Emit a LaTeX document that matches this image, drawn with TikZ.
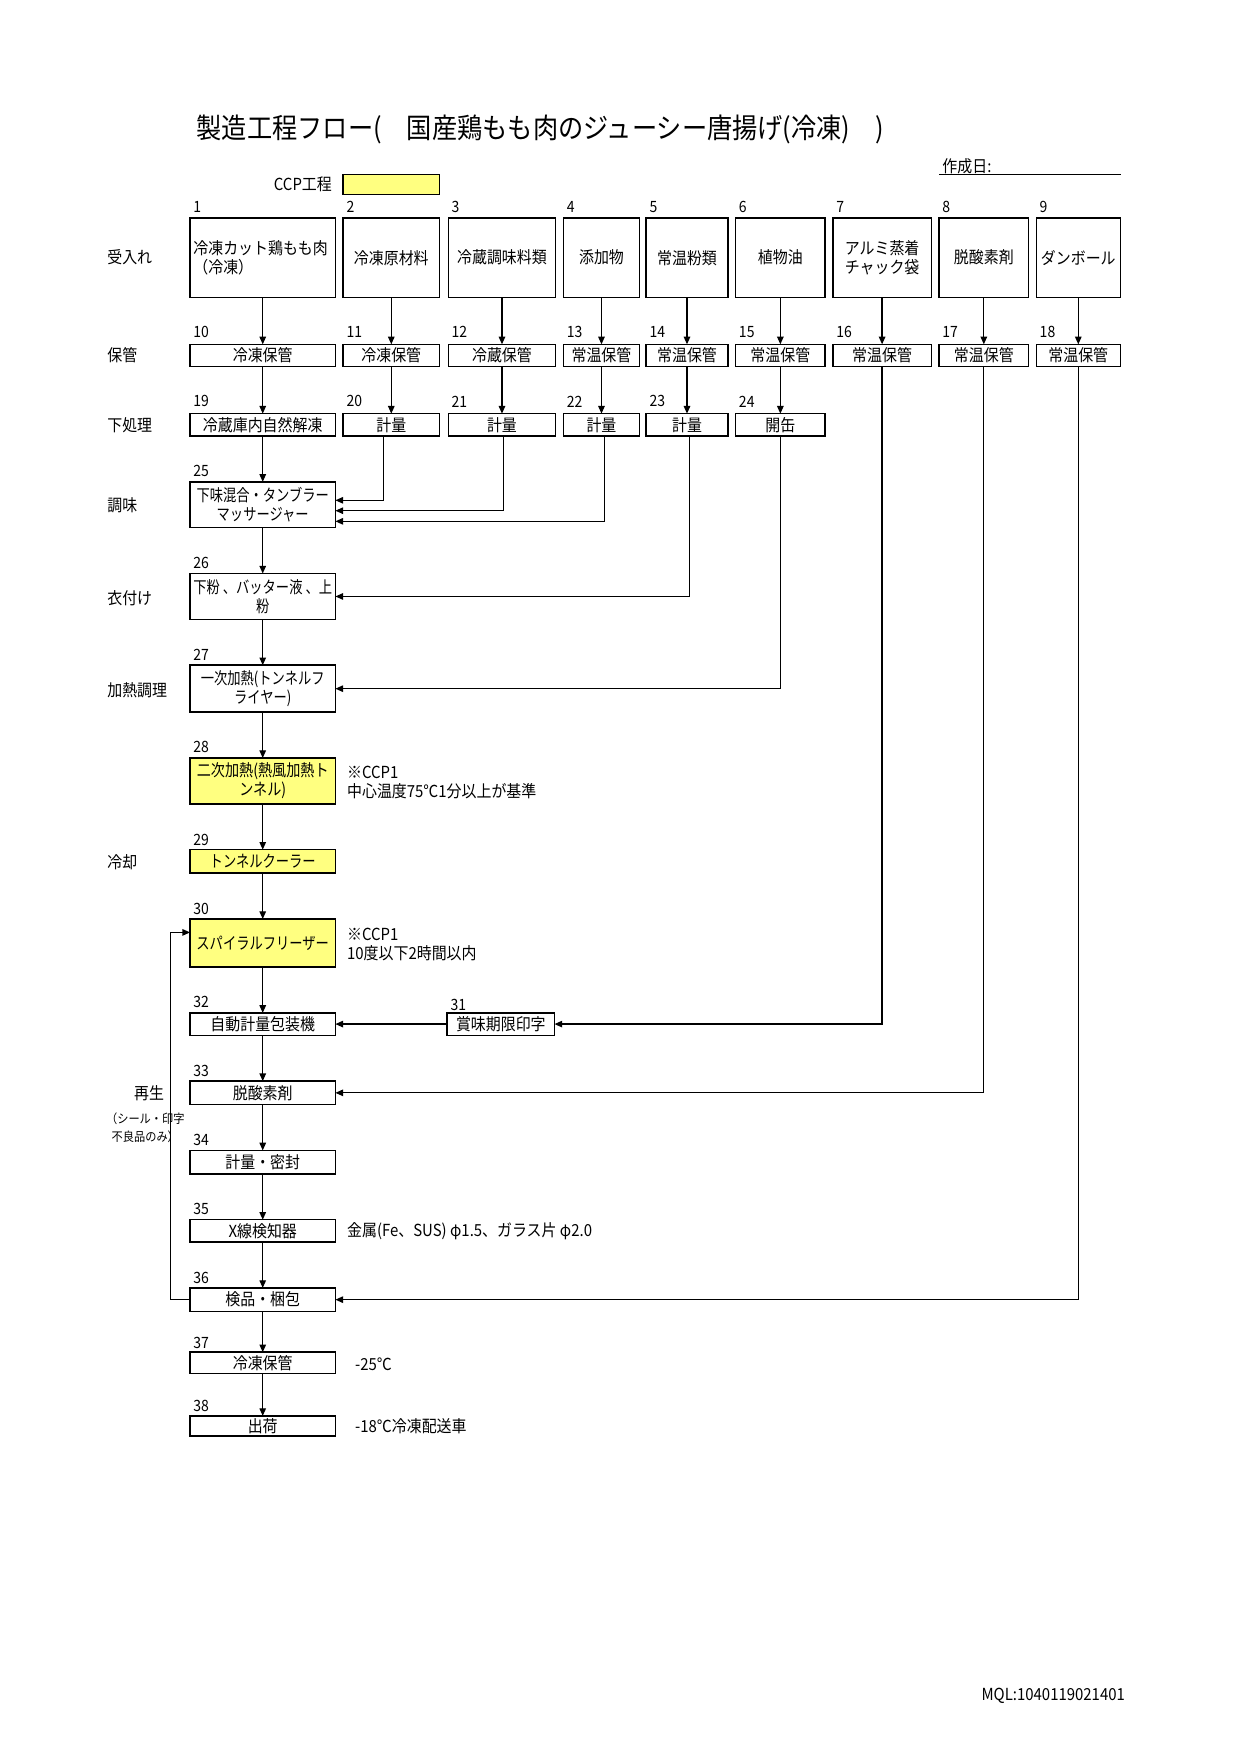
\documentclass[tikz,border=0pt]{standalone}
\usepackage{fontspec}
\newfontfamily\jp[FakeStretch=0.9]{Noto Sans CJK JP}
\newfontfamily\jpn[FakeStretch=0.8]{Noto Sans CJK JP}
\newfontfamily\jpm[FakeStretch=0.85]{Noto Sans CJK JP}
\usetikzlibrary{arrows.meta}
\newdimen\pxu \pxu=0.18936mm
\definecolor{ccp}{RGB}{255,255,128}
\begin{document}
\begin{tikzpicture}[x=0.18936mm, y=-0.18936mm,
  every node/.style={inner sep=0pt, outer sep=0pt},
  t/.style={font=\jp\fontsize{8}{9.1}\selectfont},
  tn/.style={font=\jp\fontsize{7.5}{9}\selectfont, anchor=west},
  ts/.style={font=\jp\fontsize{6}{8.6}\selectfont},
  tt/.style={font=\jp\fontsize{13.5}{16}\selectfont},
  box/.style={draw, line width=0.7pt, align=center, font=\jp\fontsize{8}{9.1}\selectfont},
  narrow/.style={font=\jpn\fontsize{8}{9.1}\selectfont},
  semi/.style={font=\jpm\fontsize{8}{9.1}\selectfont},
  wh/.style 2 args={minimum width=#1*\pxu, minimum height=#2*\pxu},
  yel/.style={fill=ccp},
  arr/.style={line width=0.6pt, -{Triangle[length=1.3mm,width=1.1mm]}},
  ln/.style={line width=0.6pt}]
\fill[white] (0,0) rectangle (1109,1568);
\useasboundingbox (0,0) rectangle (1109,1568);

% title and header
\node[tt, anchor=west] (title) at (176,116) {製造工程フロー(　国産鶏もも肉のジューシー唐揚げ(冷凍)　)};
\node[t, anchor=west] (made) at (843,149) {作成日:};
\coordinate (ul1) at (840,156);
\coordinate (ul2) at (1003,156);
\draw[ln] (ul1) -- (ul2);
\node[t, anchor=west] (ccplab) at (245,165) {CCP工程};
\node[box, yel, wh={86}{18}] (legend) at (350,165) {};
\node[t, anchor=west] (mql) at (878,1517) {MQL:1040119021401};

% row labels
\node[t, anchor=west] (l1) at (96,230) {受入れ};
\node[t, anchor=west] (l2) at (96,318) {保管};
\node[t, anchor=west] (l3) at (96,380) {下処理};
\node[t, anchor=west] (l4) at (96,452) {調味};
\node[t, anchor=west] (l5) at (96,535) {衣付け};
\node[t, anchor=west] (l6) at (96,617) {加熱調理};
\node[t, anchor=west] (l7) at (96,771) {冷却};
\node[t, anchor=west] (l8) at (120,978) {再生};
\node[ts, align=center] (l9) at (130,1009) {（シール・印字\\不良品のみ）};

% row 1
\node[box, wh={130}{71}, align=left, text width=23.48mm] (b1) at (235,230.5) {冷凍カット鶏もも肉\\（冷凍）};
\node[box, wh={86}{71}] (b2) at (350,230.5) {冷凍原材料};
\node[box, wh={96}{71}] (b3) at (449,230.5) {冷蔵調味料類};
\node[box, wh={68}{71}] (b4) at (538,230.5) {添加物};
\node[box, wh={73}{71}] (b5) at (614.5,230.5) {常温粉類};
\node[box, wh={80}{71}] (b6) at (698,230.5) {植物油};
\node[box, wh={88}{71}] (b7) at (789,230.5) {アルミ蒸着\\チャック袋};
\node[box, wh={80}{71}] (b8) at (880,230.5) {脱酸素剤};
\node[box, wh={75}{71}] (b9) at (964.5,230.5) {ダンボール};

% row 2
\node[box, wh={130}{20}] (b10) at (235,318) {冷凍保管};
\node[box, wh={86}{20}] (b11) at (350,318) {冷凍保管};
\node[box, wh={96}{20}] (b12) at (449,318) {冷蔵保管};
\node[box, wh={68}{20}] (b13) at (538,318) {常温保管};
\node[box, wh={73}{20}] (b14) at (614.5,318) {常温保管};
\node[box, wh={80}{20}] (b15) at (698,318) {常温保管};
\node[box, wh={88}{20}] (b16) at (789,318) {常温保管};
\node[box, wh={80}{20}] (b17) at (880,318) {常温保管};
\node[box, wh={75}{20}] (b18) at (964.5,318) {常温保管};

% row 3
\node[box, wh={130}{20}] (b19) at (235,380) {冷蔵庫内自然解凍};
\node[box, wh={86}{20}] (b20) at (350,380) {計量};
\node[box, wh={96}{20}] (b21) at (449,380) {計量};
\node[box, wh={68}{20}] (b22) at (538,380) {計量};
\node[box, wh={73}{20}] (b23) at (614.5,380) {計量};
\node[box, wh={80}{20}] (b24) at (698,380) {開缶};

% main column
\node[box, narrow, wh={130}{41}] (b25) at (235,451.5) {下味混合・タンブラー\\マッサージャー};
\node[box, narrow, wh={130}{41}] (b26) at (235,533.5) {下粉 、バッター液 、上\\粉};
\node[box, narrow, wh={130}{42}] (b27) at (235,616) {一次加熱(トンネルフ\\ライヤー)};
\node[box, semi, yel, wh={130}{41}] (b28) at (235,698.5) {二次加熱(熱風加熱ト\\ンネル)};
\node[box, narrow, yel, wh={130}{21}] (b29) at (235,770.5) {トンネルクーラー};
\node[box, narrow, yel, wh={130}{43}] (b30) at (235,843.5) {スパイラルフリーザー};
\node[box, wh={130}{20}] (b32) at (235,916) {自動計量包装機};
\node[box, wh={96}{20}] (b31) at (448,916) {賞味期限印字};
\node[box, wh={130}{21}] (b33) at (235,977.5) {脱酸素剤};
\node[box, wh={130}{21}] (b34) at (235,1039.5) {計量・密封};
\node[box, wh={130}{20}] (b35) at (235,1101) {X線検知器};
\node[box, wh={130}{21}] (b36) at (235,1162.5) {検品・梱包};
\node[box, wh={130}{19}] (b37) at (235,1219) {冷凍保管};
\node[box, wh={130}{18}] (b38) at (235,1275.5) {出荷};

% numbers
\node[tn] (n1) at (173,185) {1};
\node[tn] (n2) at (310,185) {2};
\node[tn] (n3) at (404,185) {3};
\node[tn] (n4) at (507,185) {4};
\node[tn] (n5) at (581,185) {5};
\node[tn] (n6) at (661,185) {6};
\node[tn] (n7) at (748,185) {7};
\node[tn] (n8) at (843,185) {8};
\node[tn] (n9) at (930,185) {9};
\node[tn] (n10) at (173,297) {10};
\node[tn] (n11) at (310,297) {11};
\node[tn] (n12) at (404,297) {12};
\node[tn] (n13) at (507,297) {13};
\node[tn] (n14) at (581,297) {14};
\node[tn] (n15) at (661,297) {15};
\node[tn] (n16) at (748,297) {16};
\node[tn] (n17) at (843,297) {17};
\node[tn] (n18) at (930,297) {18};
\node[tn] (n19) at (173,359) {19};
\node[tn] (n20) at (310,359) {20};
\node[tn] (n21) at (404,359) {21};
\node[tn] (n22) at (507,359) {22};
\node[tn] (n23) at (581,359) {23};
\node[tn] (n24) at (661,359) {24};
\node[tn] (n25) at (173,421) {25};
\node[tn] (n26) at (173,503.5) {26};
\node[tn] (n27) at (173,585.8) {27};
\node[tn] (n28) at (173,667.8) {28};
\node[tn] (n29) at (173,751.3) {29};
\node[tn] (n30) at (173,812.7) {30};
\node[tn] (n32) at (173,896.2) {32};
\node[tn] (n31) at (403,898.8) {31};
\node[tn] (n33) at (173,958) {33};
\node[tn] (n34) at (173,1019.6) {34};
\node[tn] (n35) at (173,1081.6) {35};
\node[tn] (n36) at (173,1143.3) {36};
\node[tn] (n37) at (173,1200.8) {37};
\node[tn] (n38) at (173,1257.5) {38};

% notes
\node[t, anchor=west] (c1a) at (310.5,691) {※CCP1};
\node[t, anchor=west] (c1b) at (310.5,707.5) {中心温度75℃1分以上が基準};
\node[t, anchor=west] (c2a) at (310.5,835.5) {※CCP1};
\node[t, anchor=west] (c2b) at (310.5,852.5) {10度以下2時間以内};
\node[t, anchor=west] (c3) at (310.5,1101.5) {金属(Fe、SUS) φ1.5、ガラス片 φ2.0};
\node[t, anchor=west] (c4) at (317.7,1220) {-25℃};
\node[t, anchor=west] (c5) at (317.7,1276) {-18℃冷凍配送車};

% straight arrows
\foreach \a/\b in {b1/b10,b2/b11,b3/b12,b4/b13,b5/b14,b6/b15,b7/b16,b8/b17,b9/b18,
  b10/b19,b11/b20,b12/b21,b13/b22,b14/b23,b15/b24,b19/b25,b25/b26,b26/b27,b27/b28,
  b28/b29,b29/b30,b30/b32,b32/b33,b33/b34,b34/b35,b35/b36,b36/b37,b37/b38,b31/b32}
  \draw[arr] (\a) -- (\b);

% elbow arrows
\draw[arr] ([xshift=-7*\pxu]b20.south) |- ([yshift=4*\pxu]b25.east);
\draw[arr] ([xshift=1.5*\pxu]b21.south) |- ([yshift=-5.3*\pxu]b25.east);
\draw[arr] ([xshift=3*\pxu]b22.south) |- ([yshift=-14.8*\pxu]b25.east);
\draw[arr] ([xshift=2.5*\pxu]b23.south) |- (b26.east);
\draw[arr] (b24.south) |- (b27.east);
\draw[arr] (b16.south) |- (b31.east);
\draw[arr] (b17.south) |- (b33.east);
\draw[arr] (b18.south) |- (b36.east);

% rework loop
\coordinate (fb) at (152.7,834);
\draw[arr] (b36.west) -| (fb) -- (fb -| b30.west);
\end{tikzpicture}
\end{document}
